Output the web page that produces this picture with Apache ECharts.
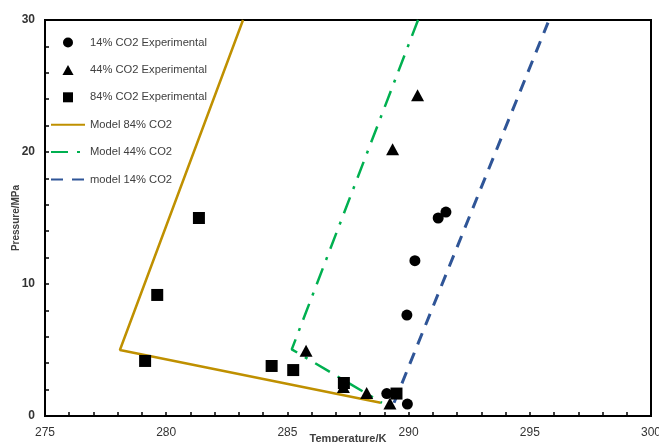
<!DOCTYPE html>
<html>
<head>
<meta charset="utf-8">
<script src="https://cdn.jsdelivr.net/npm/echarts@6/dist/echarts.min.js"></script>
<style>html,body{margin:0;padding:0;background:#fff;}#c{width:659px;height:442px;}</style>
</head>
<body>
<div id="c"></div>
<script>
const seriesNames = ['14% CO2 Experimental','44% CO2 Experimental','84% CO2 Experimental','Model 84% CO2','Model 44% CO2','model 14% CO2'];
const exp14 = [[291.54,15.45],[291.22,15.0],[290.26,11.77],[289.93,7.65],[289.1,1.7],[289.95,0.9]];
const exp44 = [[290.37,24.3],[289.34,20.2],[285.77,4.95],[287.31,2.2],[288.27,1.75],[289.23,0.95]];
const exp84 = [[281.35,15.0],[279.63,9.17],[279.13,4.17],[284.35,3.79],[285.24,3.48],[287.33,2.5],[289.5,1.7]];
const model84 = [[283.17,30],[278.09,5.0],[288.85,1.0]];
const model44 = [[290.39,30],[285.18,5.05],[288.9,1.0]];
const model14 = [[289.4,1.0],[295.75,29.8]];
const xTicks = [275,280,285,290,295,300];
const yTicks = [0,10,20,30];

const triPath = 'path://M5,0L10,9L0,9Z';
const sqPath = 'path://M0,0L10,0L10,10L0,10Z';

const chart = echarts.init(document.getElementById('c'));
const txt = '#404040';
const font = 'Liberation Sans';
chart.setOption({
  animation:false,
  backgroundColor:'#fff',
  grid:{left:45,right:8,top:20,bottom:26,outerBoundsMode:'none',containLabel:false,show:true,borderColor:'#000',borderWidth:2,backgroundColor:'transparent'},
  legend:{
    orient:'vertical',left:45,top:32,itemWidth:34,itemHeight:10,itemGap:16.4,
    textStyle:{fontFamily:font,fontSize:11.2,color:txt},
    data:[
      {name:seriesNames[0],icon:'circle'},
      {name:seriesNames[1],icon:triPath},
      {name:seriesNames[2],icon:sqPath},
      {name:seriesNames[3],itemStyle:{opacity:0}},
      {name:seriesNames[4],itemStyle:{opacity:0}},
      {name:seriesNames[5],itemStyle:{opacity:0}}
    ]
  },
  xAxis:{
    type:'value',min:xTicks[0],max:xTicks[xTicks.length-1],interval:5,
    name:'Temperature/K',nameLocation:'middle',nameGap:17,nameMoveOverlap:false,
    nameTextStyle:{fontFamily:font,fontSize:11,fontWeight:'bold',color:txt},
    axisLine:{show:true,lineStyle:{color:'#000',width:2}},
    axisTick:{show:true,inside:true,length:4,lineStyle:{color:'#000',width:1.5}},
    minorTick:{show:true,splitNumber:5,length:4,lineStyle:{color:'#000',width:1.5}},
    axisLabel:{fontFamily:font,fontSize:12,color:'#333',margin:11},
    splitLine:{show:false}
  },
  yAxis:{
    type:'value',min:yTicks[0],max:yTicks[yTicks.length-1],interval:10,
    name:'Pressure/MPa',nameLocation:'middle',nameGap:24,nameMoveOverlap:false,
    nameTextStyle:{fontFamily:font,fontSize:10,fontWeight:'bold',color:txt},
    axisLine:{show:true,lineStyle:{color:'#000',width:2}},
    axisTick:{show:true,inside:true,length:4,lineStyle:{color:'#000',width:1.5}},
    minorTick:{show:true,splitNumber:5,length:4,lineStyle:{color:'#000',width:1.5}},
    axisLabel:{fontFamily:font,fontSize:12,color:'#333',margin:10,fontWeight:'bold'},
    splitLine:{show:false}
  },
  series:[
    {name:seriesNames[3],type:'line',data:model84,symbol:'none',z:2,
     lineStyle:{color:'#BF9000',width:2.5},itemStyle:{color:'#BF9000'}},
    {name:seriesNames[4],type:'line',data:model44,symbol:'none',z:2,
     lineStyle:{color:'#00B050',width:2.5,type:[17,9,3,9]},itemStyle:{color:'#00B050'}},
    {name:seriesNames[5],type:'line',data:model14,symbol:'none',z:2,
     lineStyle:{color:'#2F5597',width:3,type:[12,9]},itemStyle:{color:'#2F5597'}},
    {name:seriesNames[0],type:'scatter',data:exp14,symbol:'circle',symbolSize:11,z:3,itemStyle:{color:'#000',opacity:1}},
    {name:seriesNames[1],type:'scatter',data:exp44,symbol:triPath,symbolSize:[13,12],z:3,itemStyle:{color:'#000',opacity:1}},
    {name:seriesNames[2],type:'scatter',data:exp84,symbol:sqPath,symbolSize:12,z:3,itemStyle:{color:'#000',opacity:1}}
  ]
});
</script>
</body>
</html>
